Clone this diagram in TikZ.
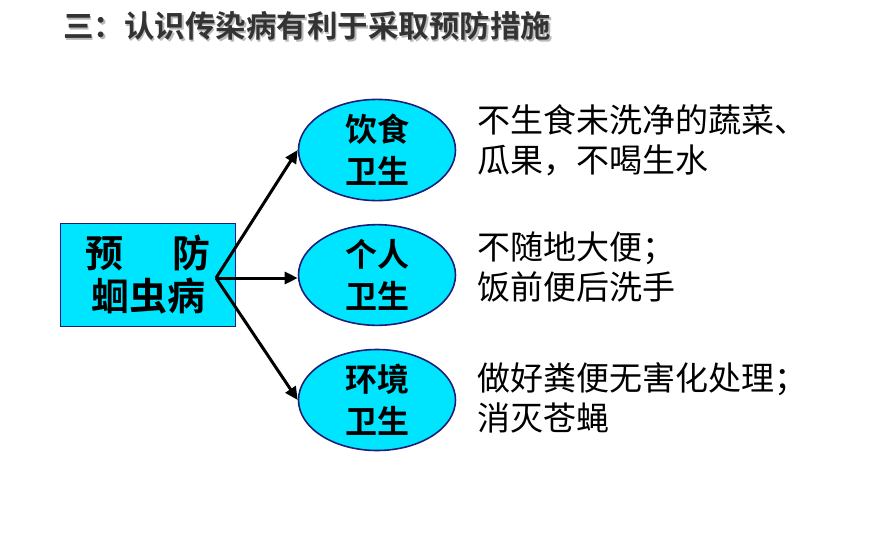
\documentclass[tikz,border=0pt]{standalone}
\usepackage{fontspec}
\newfontfamily\cjk{Noto Sans CJK SC}[BoldFont={Noto Sans CJK SC Bold}]
\usepackage{tikz}
\usetikzlibrary{shapes.geometric,arrows.meta}
\definecolor{aqua}{RGB}{0,229,255}
\definecolor{navy}{RGB}{30,30,120}

\begin{document}
\begin{tikzpicture}[x=1pt,y=-1pt,
  hygbox/.style={draw=navy,line width=1.6pt,fill=aqua,rectangle,
    minimum width=175pt,minimum height=103pt,inner sep=0pt,align=center,
    font=\cjk\bfseries\fontsize{38}{43}\selectfont},
  topic/.style={draw=navy,line width=1.6pt,fill=aqua,ellipse,
    minimum width=157pt,minimum height=93pt,inner sep=0pt,align=center,
    font=\cjk\bfseries\fontsize{32}{42}\selectfont},
  note/.style={anchor=west,align=left,inner sep=0pt,
    font=\cjk\fontsize{33}{40}\selectfont},
  arr/.style={line width=3pt,-{Triangle[length=13pt,width=12pt]}}]

\useasboundingbox (0,0) rectangle (870,544);

% title with soft shadow
\node[anchor=west,inner sep=0pt,gray!55,font=\cjk\bfseries\fontsize{30.5}{30}\selectfont]
  (titleshadow) at (64.5,27.5) {三：认识传染病有利于采取预防措施};
\node[anchor=west,inner sep=0pt,black!80,font=\cjk\bfseries\fontsize{30.5}{30}\selectfont]
  (title) at (63,26) {三：认识传染病有利于采取预防措施};

% main box and the three kinds of hygiene
\node[hygbox] (prevent) at (148,275) {预\hspace{50pt}防\\蛔虫病};
\node[topic] (diet) at (377,150) {饮食\\卫生};
\node[topic] (person) at (377,275) {个人\\卫生};
\node[topic] (env) at (377,400) {环境\\卫生};

% arrows from the fork
\coordinate (fork) at (216,278);
\draw[arr] (fork) -- (diet.west);
\draw[arr] (fork) -- (person.west |- fork);
\draw[arr] (fork) -- (env.west);

% measures
\node[note] (dietnote) at (477,140) {不生食未洗净的蔬菜、\\瓜果，不喝生水};
\node[note] (personnote) at (477,267) {不随地大便；\\饭前便后洗手};
\node[note] (envnote) at (477,398) {做好粪便无害化处理；\\消灭苍蝇};

\end{tikzpicture}
\end{document}
